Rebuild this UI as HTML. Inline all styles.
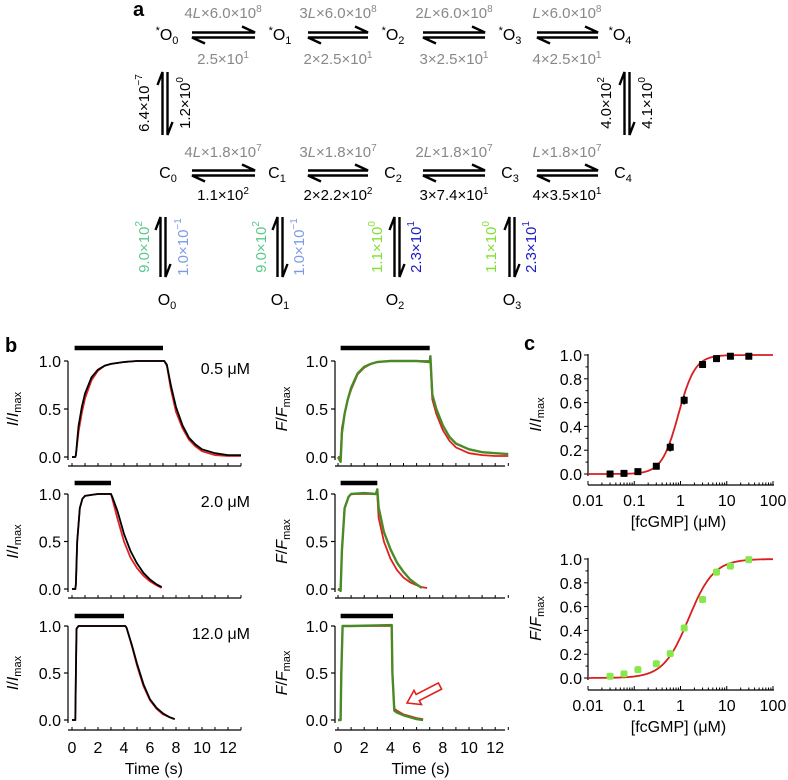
<!DOCTYPE html>
<html><head><meta charset="utf-8"><style>
body{margin:0;background:#fff;}
svg{display:block;font-family:"Liberation Sans",Arial,sans-serif;}
</style></head><body>
<svg id="fig" width="788" height="780" viewBox="0 0 788 780" xmlns="http://www.w3.org/2000/svg">
<g id="panelA" font-size="15">
<text x="133" y="16" font-size="20" font-weight="bold">a</text>
<!-- top row states -->
<g font-size="16" text-anchor="middle">
<text x="167" y="40"><tspan font-size="11" dy="-6">*</tspan><tspan dy="6">O</tspan><tspan font-size="11" dy="4">0</tspan></text>
<text x="280" y="40"><tspan font-size="11" dy="-6">*</tspan><tspan dy="6">O</tspan><tspan font-size="11" dy="4">1</tspan></text>
<text x="393" y="40"><tspan font-size="11" dy="-6">*</tspan><tspan dy="6">O</tspan><tspan font-size="11" dy="4">2</tspan></text>
<text x="510" y="40"><tspan font-size="11" dy="-6">*</tspan><tspan dy="6">O</tspan><tspan font-size="11" dy="4">3</tspan></text>
<text x="620" y="40"><tspan font-size="11" dy="-6">*</tspan><tspan dy="6">O</tspan><tspan font-size="11" dy="4">4</tspan></text>
</g>
<g fill="#888" text-anchor="middle">
<text x="223" y="18">4<tspan font-style="italic">L</tspan>×6.0×10<tspan font-size="10" dy="-6">8</tspan></text>
<text x="338" y="18">3<tspan font-style="italic">L</tspan>×6.0×10<tspan font-size="10" dy="-6">8</tspan></text>
<text x="454" y="18">2<tspan font-style="italic">L</tspan>×6.0×10<tspan font-size="10" dy="-6">8</tspan></text>
<text x="567" y="18"><tspan font-style="italic">L</tspan>×6.0×10<tspan font-size="10" dy="-6">8</tspan></text>
<text x="223" y="64">2.5×10<tspan font-size="10" dy="-6">1</tspan></text>
<text x="338" y="64">2×2.5×10<tspan font-size="10" dy="-6">1</tspan></text>
<text x="454" y="64">3×2.5×10<tspan font-size="10" dy="-6">1</tspan></text>
<text x="567" y="64">4×2.5×10<tspan font-size="10" dy="-6">1</tspan></text>
</g>
<!-- middle row -->
<g font-size="16" text-anchor="middle">
<text x="168" y="178">C<tspan font-size="11" dy="4">0</tspan></text>
<text x="277" y="178">C<tspan font-size="11" dy="4">1</tspan></text>
<text x="393" y="178">C<tspan font-size="11" dy="4">2</tspan></text>
<text x="510" y="178">C<tspan font-size="11" dy="4">3</tspan></text>
<text x="623" y="178">C<tspan font-size="11" dy="4">4</tspan></text>
</g>
<g text-anchor="middle">
<g fill="#888">
<text x="223" y="157">4<tspan font-style="italic">L</tspan>×1.8×10<tspan font-size="10" dy="-6">7</tspan></text>
<text x="338" y="157">3<tspan font-style="italic">L</tspan>×1.8×10<tspan font-size="10" dy="-6">7</tspan></text>
<text x="454" y="157">2<tspan font-style="italic">L</tspan>×1.8×10<tspan font-size="10" dy="-6">7</tspan></text>
<text x="567" y="157"><tspan font-style="italic">L</tspan>×1.8×10<tspan font-size="10" dy="-6">7</tspan></text>
</g>
<text x="223" y="200">1.1×10<tspan font-size="10" dy="-6">2</tspan></text>
<text x="338" y="200">2×2.2×10<tspan font-size="10" dy="-6">2</tspan></text>
<text x="454" y="200">3×7.4×10<tspan font-size="10" dy="-6">1</tspan></text>
<text x="567" y="200">4×3.5×10<tspan font-size="10" dy="-6">1</tspan></text>
</g>
<!-- vertical rates -->
<g text-anchor="middle" dominant-baseline="middle">
<text transform="translate(145,103) rotate(-90)">6.4×10<tspan font-size="10" dy="-6">−7</tspan></text>
<text transform="translate(186,103) rotate(-90)">1.2×10<tspan font-size="10" dy="-6">0</tspan></text>
<text transform="translate(607,103) rotate(-90)">4.0×10<tspan font-size="10" dy="-6">2</tspan></text>
<text transform="translate(648,103) rotate(-90)">4.1×10<tspan font-size="10" dy="-6">0</tspan></text>
<text fill="#5cc88a" transform="translate(145,247) rotate(-90)">9.0×10<tspan font-size="10" dy="-6">2</tspan></text>
<text fill="#7b9ae8" transform="translate(184,247) rotate(-90)">1.0×10<tspan font-size="10" dy="-6">−1</tspan></text>
<text fill="#5cc88a" transform="translate(262,247) rotate(-90)">9.0×10<tspan font-size="10" dy="-6">2</tspan></text>
<text fill="#7b9ae8" transform="translate(300,247) rotate(-90)">1.0×10<tspan font-size="10" dy="-6">−1</tspan></text>
<text fill="#80e030" transform="translate(378,247) rotate(-90)">1.1×10<tspan font-size="10" dy="-6">0</tspan></text>
<text fill="#1a1ac8" transform="translate(417,247) rotate(-90)">2.3×10<tspan font-size="10" dy="-6">1</tspan></text>
<text fill="#80e030" transform="translate(492,247) rotate(-90)">1.1×10<tspan font-size="10" dy="-6">0</tspan></text>
<text fill="#1a1ac8" transform="translate(532,247) rotate(-90)">2.3×10<tspan font-size="10" dy="-6">1</tspan></text>
</g>
<g font-size="16" text-anchor="middle">
<text x="167" y="305">O<tspan font-size="11" dy="4">0</tspan></text>
<text x="280" y="305">O<tspan font-size="11" dy="4">1</tspan></text>
<text x="395" y="305">O<tspan font-size="11" dy="4">2</tspan></text>
<text x="512" y="305">O<tspan font-size="11" dy="4">3</tspan></text>
</g>
<g id="arrows" stroke="#000" stroke-width="2.4" fill="none"></g>
</g>
<g id="panelB">
<text x="5" y="352" font-size="20" font-weight="bold">b</text>
</g>
<g id="panelC">
<text x="524" y="350" font-size="20" font-weight="bold">c</text>
</g>
<polygon points="407,703 421.4,704.6 419.3,700.6 441.6,689.1 438.4,682.9 416.1,694.4 414,690.4" fill="#fff" stroke="#e02020" stroke-width="1.6"/>
</svg>
<script>
const NS="http://www.w3.org/2000/svg";
// ---- panel a arrow positions (layout, not data) ----
const hArrows=[[192,255,35],[308,368,35],[423,485,35],[537,598,35],[192,255,173],[308,368,173],[423,485,173],[537,598,173]];
const vArrows=[[165,72,135],[627,72,135],[163,217,277],[280,217,277],[397,217,277],[512,217,277]];
// ---- panel b data ----
const timeTicks=[0,2,4,6,8,10,12];
const yTicksB=[0,0.5,1];
const concLabels=["0.5 μM","2.0 μM","12.0 μM"];
const barStart=0.2;
const barEndI=[7.0,3.0,4.0];
const barEndF=[7.0,3.0,4.2];
const iTime1=[0,0.25,0.3,0.5,0.75,1,1.5,2,2.5,3,4,5,6,7.1,7.3,7.6,8,8.5,9,9.5,10,11,12,13];
const iData1=[0,0,0.02,0.32,0.52,0.66,0.83,0.91,0.95,0.97,0.99,1,1,1,0.96,0.75,0.52,0.33,0.2,0.13,0.08,0.04,0.02,0.02];
const iFit1=[0,0,0.02,0.26,0.46,0.61,0.8,0.9,0.95,0.97,0.99,1,1,1,0.95,0.71,0.47,0.3,0.18,0.11,0.06,0.02,0.01,0.01];
const iTime2=[0,0.25,0.3,0.4,0.6,0.8,1,1.5,2,3,3.1,3.5,4,4.5,5,5.5,6,6.5,6.9];
const iData2=[0,0,0.05,0.5,0.85,0.95,0.98,0.99,1,1,0.97,0.82,0.58,0.4,0.27,0.17,0.1,0.05,0.02];
const iFit2=[0,0,0.05,0.5,0.85,0.95,0.98,0.99,1,1,0.95,0.74,0.5,0.33,0.22,0.14,0.08,0.04,0.01];
const iTime3=[0,0.25,0.3,0.35,0.5,4.1,4.2,4.6,5,5.5,6,6.5,7,7.5,7.9];
const iData3=[0,0,0.5,0.97,1,1,0.98,0.8,0.6,0.38,0.22,0.13,0.07,0.03,0.01];
const iFit3=[0,0,0.5,0.97,1,1,0.98,0.79,0.58,0.36,0.21,0.12,0.06,0.03,0.01];
const fTime1=[0,0.2,0.3,0.5,0.75,1,1.5,2,2.5,3,4,5,6,7,7.05,7.2,7.5,8,8.5,9,10,11,12,13];
const fData1=[0,-0.05,0.25,0.45,0.6,0.72,0.87,0.94,0.97,0.99,1,1,1,0.99,1.05,0.65,0.5,0.33,0.21,0.14,0.08,0.05,0.04,0.03];
const fFit1=[0,0,0.3,0.45,0.6,0.7,0.86,0.93,0.97,0.99,1,1,1,1,1,0.6,0.45,0.28,0.17,0.1,0.04,0.02,0.01,0.01];
const fTime2=[0,0.2,0.3,0.5,0.8,1,2,2.9,3,3.1,3.5,4,4.5,5,5.5,6,6.4,6.8];
const fData2=[0,-0.02,0.4,0.85,0.97,1,1.01,1,1.05,0.86,0.6,0.42,0.28,0.18,0.1,0.05,0.01,null];
const fFit2=[0,0,0.4,0.85,0.97,1,1,1,1,0.75,0.5,0.32,0.2,0.12,0.07,0.04,0.02,0.01];
const fTime3=[0,0.2,0.25,0.35,1,4.1,4.15,4.3,4.5,5,5.5,6,6.5];
const fData3=[0,0,0.5,1,1,1.01,0.5,0.1,0.08,0.05,0.03,0.01,0];
const fFit3=[0,0,0.5,1,1,1,0.5,0.12,0.1,0.06,0.04,0.02,0.01];
// ---- panel c data ----
const concs=[0.03,0.06,0.12,0.3,0.6,1.2,3,6,12,30];
const iResp=[0,0.005,0.02,0.065,0.225,0.62,0.92,0.97,0.99,0.99];
const iErr=[0.01,0.01,0.01,0.01,0.035,0.035,0.015,0.01,0.01,0.01];
const fResp=[0.015,0.035,0.07,0.12,0.205,0.42,0.66,0.89,0.94,0.995];
const fErr=[0.01,0.01,0.02,0.015,0.025,0.03,0.02,0.03,0.015,0.01];
const hillI=[0.9,2.4];
const hillF=[1.5,1.6];
const logTicks=[0.01,0.1,1,10,100];
const logTickLabels=["0.01","0.1","1","10","100"];
const yTicksC=[0,0.2,0.4,0.6,0.8,1.0];

function mk(tag,attrs,parent){const e=document.createElementNS(NS,tag);for(const k in attrs)e.setAttribute(k,attrs[k]);parent.appendChild(e);return e;}
function pathD(pts){let d="";let pen=false;pts.forEach(p=>{if(p[1]==null||isNaN(p[1])){pen=false;return;}d+=(pen?"L":"M")+p[0].toFixed(1)+","+p[1].toFixed(1);pen=true;});return d;}

// arrows
const ag=document.getElementById("arrows");
hArrows.forEach(a=>{const [x1,x2,y]=a;
 const e=mk("path",{d:`M${x1},${y-2.5}H${x2}l-13,-6 M${x2},${y+2.5}H${x1}l13,6`},ag);
 
 });
vArrows.forEach(a=>{const [x,y1,y2]=a;
 const e=mk("path",{d:`M${x-2.5},${y2}V${y1}l-5,13 M${x+2.5},${y1}V${y2}l5,-13`},ag);
 
 });

// panel b
const pb=document.getElementById("panelB");
const cols=[{ax:68,x0:72,sx:13.0,end:241,lab:"I",ylx:14},{ax:335,x0:338,sx:13.1,end:505,lab:"F",ylx:283}];
const rows=[{top:361,zero:457,axis:466,bar:348},{top:494,zero:589,axis:598,bar:483},{top:626,zero:720,axis:730,bar:616}];
const traces=[
 [[iTime1,iData1,iFit1],[iTime2,iData2,iFit2],[iTime3,iData3,iFit3]],
 [[fTime1,fData1,fFit1],[fTime2,fData2,fFit2],[fTime3,fData3,fFit3]]];
cols.forEach((c,ci)=>{rows.forEach((r,ri)=>{
 const g=mk("g",{},pb);
 
 
 const X=t=>c.x0+t*c.sx, Y=v=>r.zero-v*(r.zero-r.top);
 const ya=mk("line",{x1:c.ax,x2:c.ax,y1:r.zero+3,y2:r.top,stroke:"#000","stroke-width":1.2},g);
 
 
 yTicksB.forEach(v=>{
  const tk=mk("line",{x1:c.ax-4,x2:c.ax,y1:Y(v),y2:Y(v),stroke:"#000","stroke-width":1.2},g);
  
  
  const tl=mk("text",{x:c.ax-7,y:Y(v)+6,"text-anchor":"end","font-size":16},g);tl.textContent=v.toFixed(1);
  
  });
 const xa=mk("line",{x1:c.ax,x2:c.end,y1:r.axis,y2:r.axis,stroke:"#000","stroke-width":1.2},g);
 
 
 for(let t=0;t<=13;t++){const tk=mk("line",{x1:X(t),x2:X(t),y1:r.axis,y2:r.axis-3,stroke:"#000","stroke-width":1},g);
  
  }
 if(ri===2){timeTicks.forEach(t=>{const tl=mk("text",{x:X(t),y:r.axis+23,"text-anchor":"middle","font-size":16},g);tl.textContent=t;
  
  });
  const xl=mk("text",{x:X(6.3),y:r.axis+44,"text-anchor":"middle","font-size":16},g);xl.textContent="Time (s)";
  
  }
 const yl=mk("text",{transform:`translate(${c.ylx},${(r.top+r.zero)/2}) rotate(-90)`,"text-anchor":"middle","dominant-baseline":"middle","font-size":16},g);
 yl.innerHTML=`<tspan font-style="italic">${c.lab}</tspan>/<tspan font-style="italic">${c.lab}</tspan><tspan font-size="11" dy="4">max</tspan>`;
 
 
 const ends=ci?barEndF:barEndI;
 const bar=mk("line",{x1:X(barStart),x2:X(ends[ri]),y1:r.bar,y2:r.bar,stroke:"#000","stroke-width":4.5},g);
 
 
 const [tt,dd,ff]=traces[ci][ri];
 const fit=mk("path",{d:pathD(tt.map((t,i)=>[X(t),ff[i]==null?null:Y(ff[i])])),stroke:"#e02020","stroke-width":1.8,fill:"none"},g);
 
 
 const dat=mk("path",{d:pathD(tt.map((t,i)=>[X(t),dd[i]==null?null:Y(dd[i])])),stroke:ci?"#4a8a26":"#000","stroke-width":ci?2.4:1.8,fill:"none","stroke-linejoin":"round"},g);
 
 
 if(ci===0){const cl=mk("text",{x:250,y:r.top+13,"text-anchor":"end","font-size":16},g);cl.textContent=concLabels[ri];
  
  }
});});

// panel c
const pc=document.getElementById("panelC");
const cplots=[{top:355,zero:474,axis:485,resp:iResp,err:iErr,hill:hillI,lab:"I",col:"#000",rad:0.5},
              {top:559,zero:678,axis:690,resp:fResp,err:fErr,hill:hillF,lab:"F",col:"#86e84a",rad:2}];
const cax=588, LX=c=>cax+(Math.log10(c)+2)*46.25;
cplots.forEach((p,pi)=>{
 const g=mk("g",{},pc);
 
 
 const Y=v=>p.zero-v*(p.zero-p.top);
 const ya=mk("line",{x1:cax,x2:cax,y1:p.zero+2,y2:p.top-1,stroke:"#000","stroke-width":1.2},g);
 
 
 for(let k=0;k<=10;k++){const tk=mk("line",{x1:cax-(k%2?2.5:4),x2:cax,y1:Y(k/10),y2:Y(k/10),stroke:"#000","stroke-width":1},g);
  
  }
 yTicksC.forEach(v=>{const tl=mk("text",{x:cax-6,y:Y(v)+6,"text-anchor":"end","font-size":16},g);tl.textContent=v.toFixed(1);
  
  });
 const xa=mk("line",{x1:cax,x2:LX(100)+1,y1:p.axis,y2:p.axis,stroke:"#000","stroke-width":1.2},g);
 
 
 for(let d=-2;d<2;d++)for(let m=1;m<10;m++){const x=LX(m*Math.pow(10,d));
  const tk=mk("line",{x1:x,x2:x,y1:p.axis,y2:p.axis-(m===1?4:2.5),stroke:"#000","stroke-width":1},g);
  
  }
 const lt=mk("line",{x1:LX(100),x2:LX(100),y1:p.axis,y2:p.axis-4,stroke:"#000","stroke-width":1},g);
 
 
 logTicks.forEach((c,i)=>{const tl=mk("text",{x:LX(c),y:p.axis+21,"text-anchor":"middle","font-size":16},g);tl.textContent=logTickLabels[i];
  
  });
 const xl=mk("text",{x:LX(1)-2,y:p.axis+42,"text-anchor":"middle","font-size":16},g);xl.textContent="[fcGMP] (μM)";
 
 
 const yl=mk("text",{transform:`translate(537,${(p.top+p.zero)/2}) rotate(-90)`,"text-anchor":"middle","dominant-baseline":"middle","font-size":16},g);
 yl.innerHTML=`<tspan font-style="italic">${p.lab}</tspan>/<tspan font-style="italic">${p.lab}</tspan><tspan font-size="11" dy="4">max</tspan>`;
 
 
 const pts=[];for(let i=0;i<=200;i++){const c=Math.pow(10,-2+4*i/200);const v=1/(1+Math.pow(p.hill[0]/c,p.hill[1]));pts.push([LX(c),Y(v)]);}
 const fit=mk("path",{d:pathD(pts),stroke:"#d81e1e","stroke-width":1.8,fill:"none"},g);
 
 
 concs.forEach((c,i)=>{const x=LX(c),y=Y(p.resp[i]);
  const eb=mk("line",{x1:x,x2:x,y1:Y(p.resp[i]+p.err[i]),y2:Y(p.resp[i]-p.err[i]),stroke:p.col,"stroke-width":2},g);
  
  
  const m=mk("rect",{x:x-3.5,y:y-3.5,width:7,height:7,rx:p.rad,fill:p.col},g);
  
  });
});
</script>
</body></html>
